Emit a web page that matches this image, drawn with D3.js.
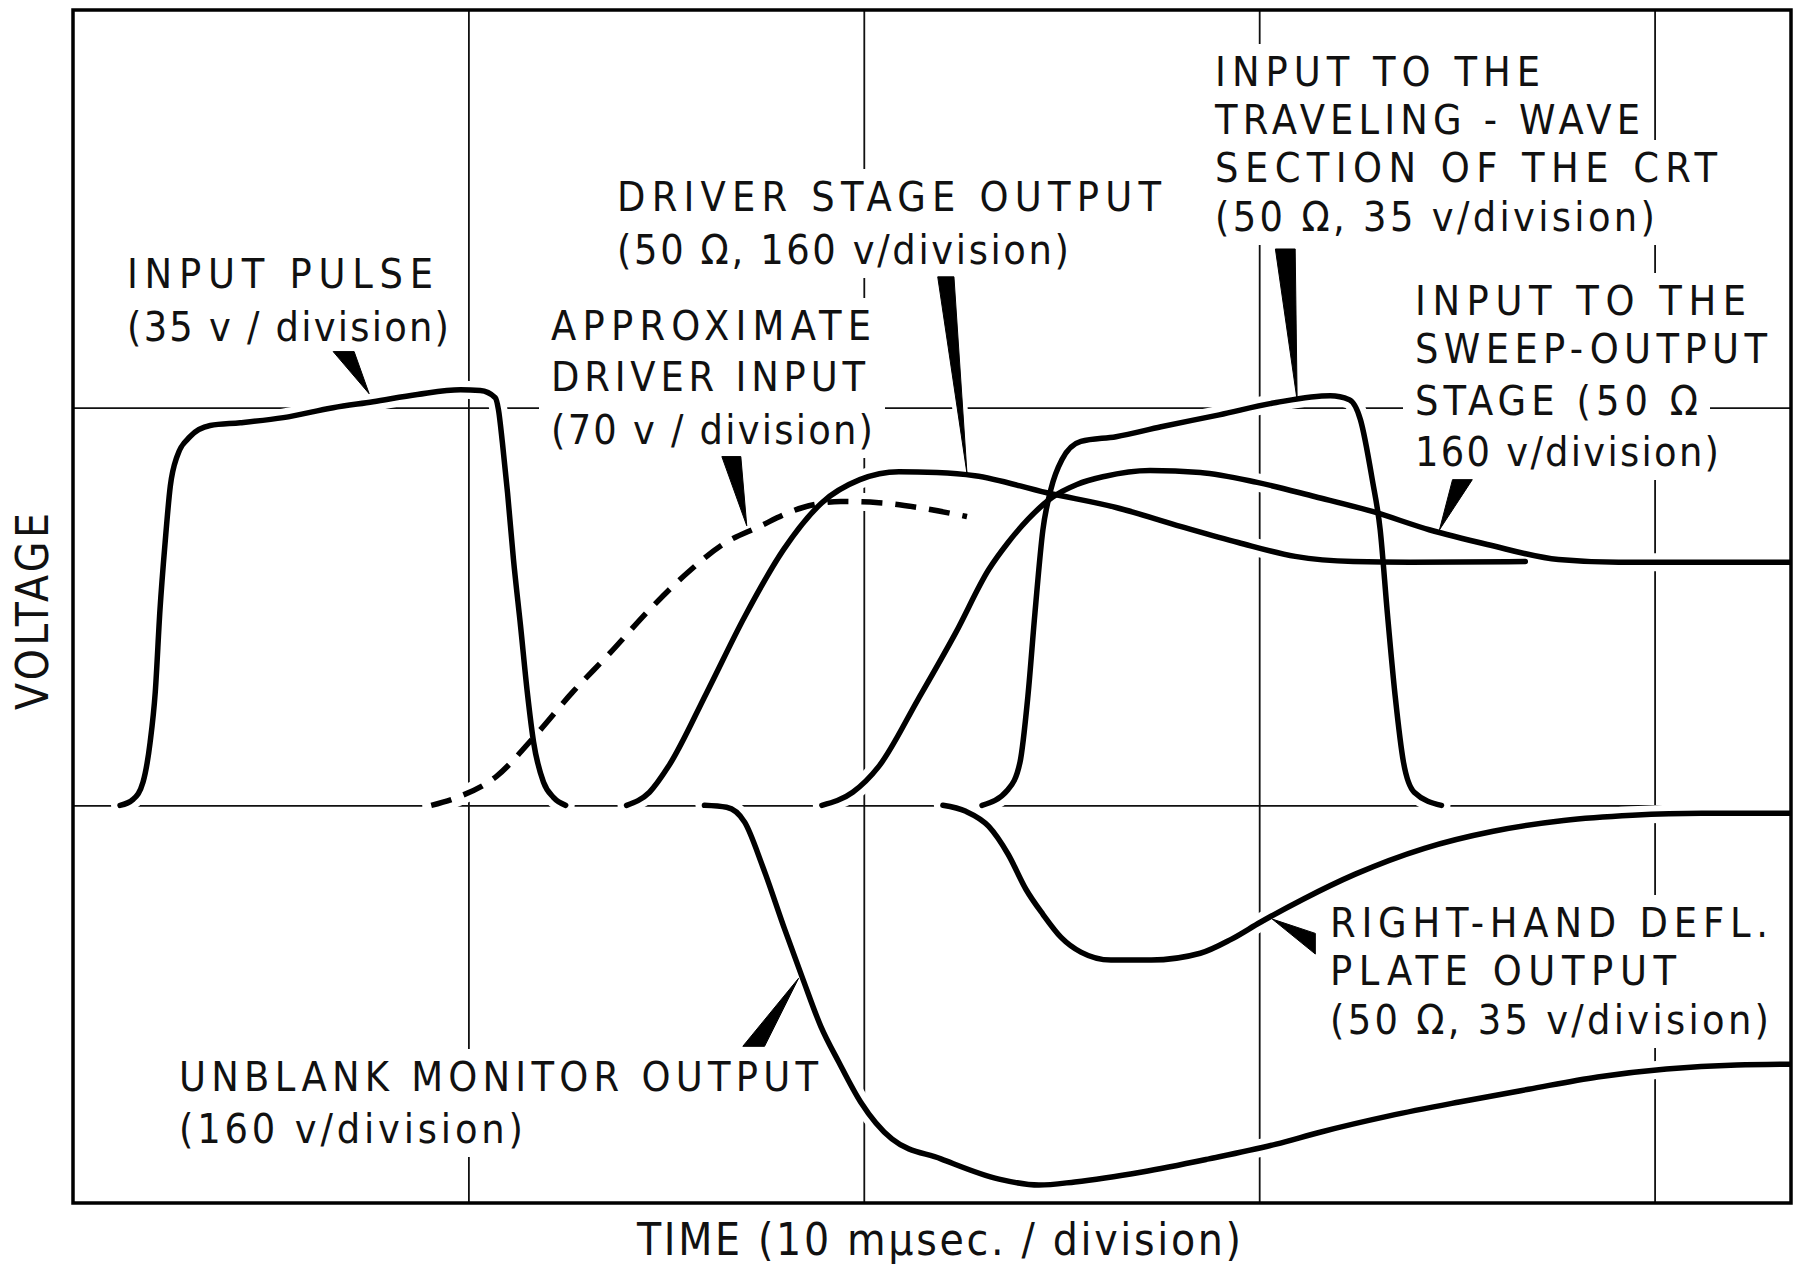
<!DOCTYPE html>
<html>
<head>
<meta charset="utf-8">
<script src="https://cdn.jsdelivr.net/npm/d3@7"></script>
<style>
html,body{margin:0;padding:0;background:#fff;}
svg{display:block;}
</style>
</head>
<body>
<svg id="chart" width="1793" height="1266"></svg>
<script>
// ---------------- DATA (time in mµsec, voltage in divisions) ----------------
const timeGridTicks = [10, 20, 30, 40];
const voltGridTicks = [0, 1];

const inputPulseT = [1.19,1.52,1.77,1.95,2.08,2.20,2.33,2.46,2.63,2.96,3.47,4.23,5.32,6.58,7.59,8.71,9.80,10.30,10.68,10.76,10.86,10.99,11.14,11.32,11.49,11.65,11.90,12.15,12.46];
const inputPulseV = [0,0.015,0.058,0.158,0.284,0.492,0.661,0.802,0.877,0.927,0.955,0.962,0.975,1.0,1.015,1.033,1.045,1.043,1.025,0.995,0.912,0.786,0.618,0.450,0.284,0.158,0.058,0.020,0.0];

const driverInputT = [9.06,9.72,10.71,11.67,12.63,13.59,14.58,15.54,16.51,17.29,18.46,19.42,20.38,21.37,22.61];
const driverInputV = [0.0,0.02,0.073,0.173,0.284,0.384,0.492,0.585,0.661,0.698,0.749,0.764,0.761,0.749,0.726];

const driverOutputT = [14.00,14.58,15.06,16.03,16.99,17.97,18.94,19.90,20.89,21.85,22.81,24.63,26.38,28.03,29.47,30.91,32.38,33.82,36.73];
const driverOutputV = [0.0,0.033,0.098,0.284,0.475,0.643,0.761,0.819,0.839,0.837,0.829,0.786,0.749,0.701,0.661,0.626,0.613,0.611,0.613];

const travelingT = [22.99,23.65,23.95,24.15,24.33,24.53,24.73,25.01,25.49,26.38,27.52,28.99,30.43,31.80,32.28,32.56,32.86,33.06,33.24,33.44,33.65,33.92,34.61];
const travelingV = [0.0,0.04,0.108,0.274,0.485,0.693,0.794,0.869,0.915,0.927,0.952,0.982,1.013,1.030,1.020,0.970,0.819,0.693,0.485,0.274,0.108,0.033,0.0];

const sweepT = [18.94,19.72,20.38,21.37,22.33,23.16,23.65,24.15,24.76,25.39,26.08,27.24,28.51,29.95,31.42,32.86,34.30,35.77,37.57,39.09,43.49];
const sweepV = [0.0,0.033,0.098,0.266,0.435,0.593,0.661,0.719,0.774,0.807,0.827,0.842,0.837,0.812,0.776,0.739,0.693,0.656,0.618,0.611,0.611];

const unblankT = [15.97,16.53,16.99,17.44,18.00,18.46,18.91,19.37,19.92,20.71,21.95,23.42,24.43,25.34,27.04,28.73,30.43,31.54,33.29,35.06,36.81,38.56,40.30,42.08,43.49];
const unblankV = [0.0,-0.005,-0.043,-0.153,-0.312,-0.437,-0.555,-0.646,-0.746,-0.839,-0.889,-0.940,-0.955,-0.947,-0.922,-0.889,-0.852,-0.822,-0.781,-0.746,-0.714,-0.683,-0.663,-0.653,-0.651];

const deflT = [22.0,22.58,23.16,23.65,24.10,24.53,24.99,25.49,26.25,27.27,28.51,29.29,30.03,31.11,32.43,34.18,35.92,37.70,39.44,41.19,43.49];
const deflV = [0.0,-0.015,-0.053,-0.123,-0.211,-0.274,-0.332,-0.369,-0.389,-0.389,-0.372,-0.337,-0.294,-0.236,-0.173,-0.108,-0.065,-0.038,-0.025,-0.020,-0.020];

// label texts
const labelInputPulse = ["INPUT PULSE", "(35 v / division)"];
const labelDriverInput = ["APPROXIMATE", "DRIVER INPUT", "(70 v / division)"];
const labelDriverOutput = ["DRIVER STAGE OUTPUT", "(50 \u03A9, 160 v/division)"];
const labelTraveling = ["INPUT TO THE", "TRAVELING - WAVE", "SECTION OF THE CRT", "(50 \u03A9, 35 v/division)"];
const labelSweep = ["INPUT TO THE", "SWEEP-OUTPUT", "STAGE (50 \u03A9", "160 v/division)"];
const labelUnblank = ["UNBLANK MONITOR OUTPUT", "(160 v/division)"];
const labelDefl = ["RIGHT-HAND DEFL.", "PLATE OUTPUT", "(50 \u03A9, 35 v/division)"];
const xAxisTitle = "TIME (10 m\u00B5sec. / division)";
const yAxisTitle = "VOLTAGE";

// ---------------- LAYOUT ----------------
const W = 1793, H = 1266;
const frame = {left: 73, right: 1791, top: 10, bottom: 1203};
const FONT = "'Liberation Sans Narrow','DejaVu Sans Condensed','Roboto Condensed','Liberation Sans',Arial,sans-serif";

const x = d3.scaleLinear().domain([0, 43.45]).range([frame.left, frame.right]);
const y = d3.scaleLinear().domain([-1, 2]).range([frame.bottom, frame.top]);

const svg = d3.select("#chart");
svg.append("rect").attr("width", W).attr("height", H).attr("fill", "#fff");

// grid through axes
const gridX = d3.axisBottom(x).tickValues(timeGridTicks).tickSize(-(frame.bottom - frame.top)).tickFormat("");
const gx = svg.append("g").attr("transform", `translate(0,${frame.bottom})`).call(gridX);
gx.select(".domain").remove();
gx.selectAll("line").attr("stroke", "#111").attr("stroke-width", 1.8);

const gridY = d3.axisLeft(y).tickValues(voltGridTicks).tickSize(-(frame.right - frame.left)).tickFormat("");
const gy = svg.append("g").attr("transform", `translate(${frame.left},0)`).call(gridY);
gy.select(".domain").remove();
gy.selectAll("line").attr("stroke", "#111").attr("stroke-width", 1.8);

// label blocks (layout only)
const labelBlocks = [
  {lines: labelInputPulse, x: 127, base: [288, 341], w: [306, 322]},
  {lines: labelDriverInput, x: 551, base: [340, 391, 444], w: [320, 314, 322]},
  {lines: labelDriverOutput, x: 617, base: [211, 264], w: [544, 452]},
  {lines: labelTraveling, x: 1215, base: [86, 134, 182, 231], w: [325, 425, 502, 440]},
  {lines: labelSweep, x: 1415, base: [315, 363, 415, 466], w: [331, 352, 283, 304]},
  {lines: labelUnblank, x: 179, base: [1091, 1143], w: [639, 344]},
  {lines: labelDefl, x: 1330, base: [937, 985, 1034], w: [438, 346, 439]}
];

// white knock-outs behind labels (break the grid lines like the original)
const bg = svg.append("g");
labelBlocks.forEach(b => {
  b.lines.forEach((t, i) => {
    bg.append("rect")
      .attr("x", b.x - 12).attr("y", b.base[i] - 42)
      .attr("width", b.w[i] + 24).attr("height", 56)
      .attr("fill", "#fff");
  });
});

// series
const series = [
  {t: inputPulseT, v: inputPulseV, dash: null},
  {t: driverInputT, v: driverInputV, dash: "21,13"},
  {t: driverOutputT, v: driverOutputV, dash: null},
  {t: travelingT, v: travelingV, dash: null},
  {t: sweepT, v: sweepV, dash: null},
  {t: unblankT, v: unblankV, dash: null},
  {t: deflT, v: deflV, dash: null}
];

const line = d3.line().x(d => x(d[0])).y(d => y(d[1])).curve(d3.curveMonotoneX);
const pts = s => s.t.map((t, i) => [t, s.v[i]]);

svg.append("defs").append("clipPath").attr("id", "plotclip")
  .append("rect").attr("x", frame.left).attr("y", frame.top)
  .attr("width", frame.right - frame.left).attr("height", frame.bottom - frame.top);

// pointer wedges (annotation geometry in data units)
const pointers = [
  [[6.58, 1.141], [7.11, 1.141], [7.49, 1.035]],
  [[16.41, 0.877], [16.89, 0.877], [17.04, 0.703]],
  [[21.87, 1.329], [22.28, 1.329], [22.61, 0.834]],
  [[30.41, 1.399], [30.91, 1.399], [30.96, 1.018]],
  [[34.89, 0.819], [35.39, 0.819], [34.56, 0.693]],
  [[16.94, -0.606], [17.49, -0.606], [18.35, -0.435]],
  [[30.33, -0.286], [31.42, -0.322], [31.42, -0.374]]
];
const poly = p => p.map(d => [x(d[0]), y(d[1])].join(",")).join(" ");

const plot = svg.append("g").attr("clip-path", "url(#plotclip)");
// halos
plot.selectAll("path.halo").data(series).join("path")
  .attr("class", "halo").attr("d", s => line(pts(s)))
  .attr("fill", "none").attr("stroke", "#fff").attr("stroke-width", 18)
  .attr("stroke-linecap", "round").attr("stroke-linejoin", "round");
plot.selectAll("polygon.halo").data(pointers).join("polygon")
  .attr("class", "halo").attr("points", poly)
  .attr("fill", "#fff").attr("stroke", "#fff").attr("stroke-width", 10).attr("stroke-linejoin", "round");

// curves
plot.selectAll("path.trace").data(series).join("path")
  .attr("class", "trace").attr("d", s => line(pts(s)))
  .attr("fill", "none").attr("stroke", "#000").attr("stroke-width", 5.5)
  .attr("stroke-linecap", s => s.dash ? "butt" : "round")
  .attr("stroke-linejoin", "round")
  .attr("stroke-dasharray", s => s.dash);

// pointers
plot.selectAll("polygon.ptr").data(pointers).join("polygon")
  .attr("class", "ptr").attr("points", poly)
  .attr("fill", "#000").attr("stroke", "#000").attr("stroke-width", 1);

// frame
svg.append("rect")
  .attr("x", frame.left).attr("y", frame.top)
  .attr("width", frame.right - frame.left).attr("height", frame.bottom - frame.top)
  .attr("fill", "none").attr("stroke", "#000").attr("stroke-width", 3.5);

// labels
const tg = svg.append("g").attr("font-family", FONT).attr("font-size", 41).attr("fill", "#111");
labelBlocks.forEach(b => {
  b.lines.forEach((t, i) => {
    tg.append("text")
      .attr("x", b.x).attr("y", b.base[i])
      .attr("textLength", b.w[i]).attr("lengthAdjust", "spacing")
      .text(t);
  });
});

// axis titles
svg.append("text")
  .attr("x", 637).attr("y", 1255)
  .attr("font-family", FONT).attr("font-size", 44).attr("fill", "#111")
  .attr("textLength", 604).attr("lengthAdjust", "spacing")
  .text(xAxisTitle);

svg.append("text")
  .attr("transform", "translate(48,710) rotate(-90)")
  .attr("x", 0).attr("y", 0)
  .attr("font-family", FONT).attr("font-size", 44).attr("fill", "#111")
  .attr("textLength", 197).attr("lengthAdjust", "spacing")
  .text(yAxisTitle);
</script>
</body>
</html>
